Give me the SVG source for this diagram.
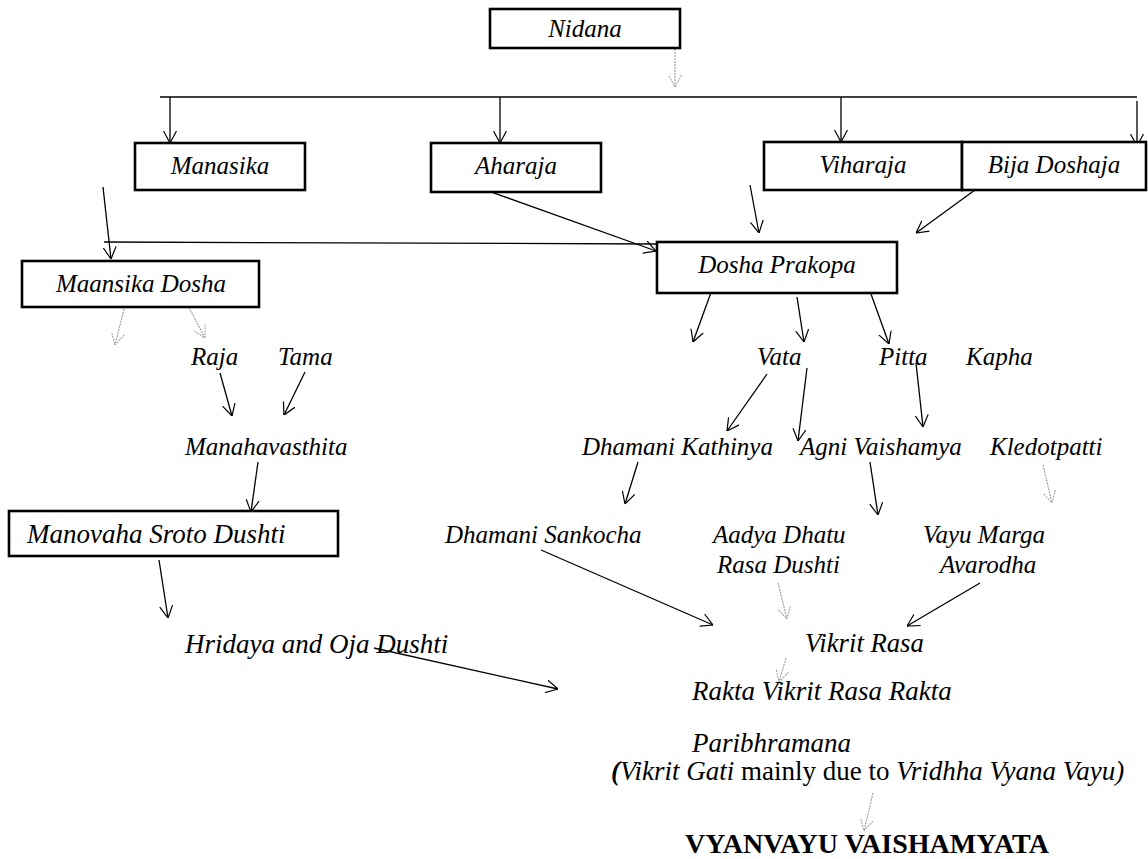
<svg xmlns="http://www.w3.org/2000/svg" width="1148" height="859" viewBox="0 0 1148 859">
<defs>
<marker id="ah" viewBox="0 0 12 14" refX="12" refY="7" markerWidth="12" markerHeight="14" markerUnits="userSpaceOnUse" orient="auto">
<path d="M0,0.5 L12,7 L0,13.5" fill="none" stroke="#000" stroke-width="1.2"/>
</marker>
<marker id="ahg" viewBox="0 0 12 14" refX="12" refY="7" markerWidth="12" markerHeight="14" markerUnits="userSpaceOnUse" orient="auto">
<path d="M0,0.5 L12,7 L0,13.5" fill="none" stroke="#999" stroke-width="1" stroke-dasharray="2,1"/>
</marker>
</defs>
<style>
.box{fill:#fff;stroke:#000;stroke-width:2.6}
.t{font-family:"Liberation Serif","Times New Roman",serif;font-style:italic;font-size:25px;fill:#000}
.b{font-size:27px}
.c{text-anchor:middle}
.ln{stroke:#000;stroke-width:1.3;fill:none}
.ar{stroke:#000;stroke-width:1.3;fill:none;marker-end:url(#ah)}
.ag{stroke:#999;stroke-width:1.1;fill:none;stroke-dasharray:2,1;marker-end:url(#ahg)}
</style>
<rect width="1148" height="859" fill="#fff"/>
<g id="connectors">
<line class="ag" x1="675" y1="49" x2="675" y2="87"/>
<line class="ln" x1="160" y1="97" x2="1137" y2="97"/>
<line class="ar" x1="170" y1="97" x2="170" y2="143"/>
<line class="ar" x1="500" y1="97" x2="500" y2="143"/>
<line class="ar" x1="841" y1="97" x2="841" y2="142"/>
<line class="ar" x1="1137" y1="101" x2="1137" y2="146"/>
<line class="ar" x1="103" y1="187" x2="111" y2="259"/>
<line class="ln" x1="104" y1="242" x2="657" y2="244"/>
<line class="ar" x1="466" y1="183" x2="656" y2="251"/>
<line class="ar" x1="750" y1="185" x2="759" y2="233"/>
<line class="ar" x1="979" y1="187" x2="916" y2="233"/>
<line class="ag" x1="124" y1="309" x2="115" y2="345"/>
<line class="ag" x1="186" y1="302" x2="205" y2="338"/>
<line class="ar" x1="220" y1="373" x2="232" y2="416"/>
<line class="ar" x1="305" y1="372" x2="284" y2="415"/>
<line class="ar" x1="258" y1="462" x2="251" y2="512"/>
<line class="ar" x1="159" y1="560" x2="168" y2="618"/>
<line class="ar" x1="374" y1="648" x2="558" y2="689"/>
<line class="ar" x1="713" y1="287" x2="693" y2="342"/>
<line class="ar" x1="797" y1="297" x2="804" y2="342"/>
<line class="ar" x1="871" y1="294" x2="889" y2="344"/>
<line class="ar" x1="767" y1="374" x2="727" y2="431"/>
<line class="ar" x1="807" y1="368" x2="798" y2="441"/>
<line class="ar" x1="916" y1="363" x2="923" y2="427"/>
<line class="ar" x1="638" y1="462" x2="625" y2="504"/>
<line class="ar" x1="870" y1="462" x2="878" y2="515"/>
<line class="ag" x1="1043" y1="465" x2="1052" y2="503"/>
<line class="ar" x1="541" y1="550" x2="713" y2="625"/>
<line class="ag" x1="778" y1="583" x2="787" y2="619"/>
<line class="ar" x1="980" y1="583" x2="907" y2="626"/>
<line class="ag" x1="786" y1="658" x2="779" y2="682"/>
<line class="ag" x1="873" y1="793" x2="864" y2="831"/>
</g>
<g id="nidana"><rect class="box" x="490" y="9" width="190" height="39"/><text class="t c" x="585" y="37">Nidana</text></g>
<g id="manasika"><rect class="box" x="135" y="143" width="170" height="47"/><text class="t c" x="220" y="174">Manasika</text></g>
<g id="aharaja"><rect class="box" x="431" y="143" width="170" height="49"/><text class="t c" x="516" y="174">Aharaja</text></g>
<g id="viharaja"><rect class="box" x="764" y="142" width="198" height="48"/><text class="t c" x="863" y="173">Viharaja</text></g>
<g id="bija-doshaja"><rect class="box" x="962" y="142" width="184" height="48"/><text class="t c" x="1054" y="173">Bija Doshaja</text></g>
<g id="dosha-prakopa"><rect class="box" x="657" y="242" width="240" height="51"/><text class="t c" x="777" y="273">Dosha Prakopa</text></g>
<g id="maansika-dosha"><rect class="box" x="22" y="261" width="237" height="46"/><text class="t c" x="141" y="292">Maansika Dosha</text></g>
<g id="raja"><text class="t" x="191" y="365">Raja</text></g>
<g id="tama"><text class="t" x="278" y="365">Tama</text></g>
<g id="manahavasthita"><text class="t" x="185" y="455">Manahavasthita</text></g>
<g id="manovaha"><rect class="box" x="9" y="511" width="329" height="45"/><text class="t b" x="27" y="543">Manovaha Sroto Dushti</text></g>
<g id="hridaya"><text class="t b" x="185" y="653">Hridaya and Oja Dushti</text></g>
<g id="vata"><text class="t" x="757" y="365">Vata</text></g>
<g id="pitta"><text class="t" x="879" y="365">Pitta</text></g>
<g id="kapha"><text class="t" x="966" y="365">Kapha</text></g>
<g id="dhamani-kathinya"><text class="t" x="582" y="455">Dhamani Kathinya</text></g>
<g id="agni-vaishamya"><text class="t" x="800" y="455">Agni Vaishamya</text></g>
<g id="kledotpatti"><text class="t" x="990" y="455">Kledotpatti</text></g>
<g id="dhamani-sankocha"><text class="t" x="445" y="543">Dhamani Sankocha</text></g>
<g id="aadya-dhatu"><text class="t" x="713" y="543">Aadya Dhatu</text><text class="t" x="717" y="573">Rasa Dushti</text></g>
<g id="vayu-marga"><text class="t" x="923" y="543">Vayu Marga</text><text class="t" x="940" y="573">Avarodha</text></g>
<g id="vikrit-rasa"><text class="t" x="805" y="652" style="font-size:26.7px">Vikrit Rasa</text></g>
<g id="rakta"><text class="t b" x="692" y="700">Rakta Vikrit Rasa Rakta</text><text class="t b" x="692" y="752">Paribhramana</text>
<text class="t b" x="611" y="780"><tspan font-weight="bold">(</tspan>Vikrit Gati<tspan font-style="normal"> mainly due to </tspan>Vridhha Vyana Vayu)</text></g>
<g id="vyanvayu"><text x="685" y="853" style="font-family:'Liberation Serif','Times New Roman',serif;font-weight:bold;font-size:28px">VYANVAYU VAISHAMYATA</text></g>
</svg>
